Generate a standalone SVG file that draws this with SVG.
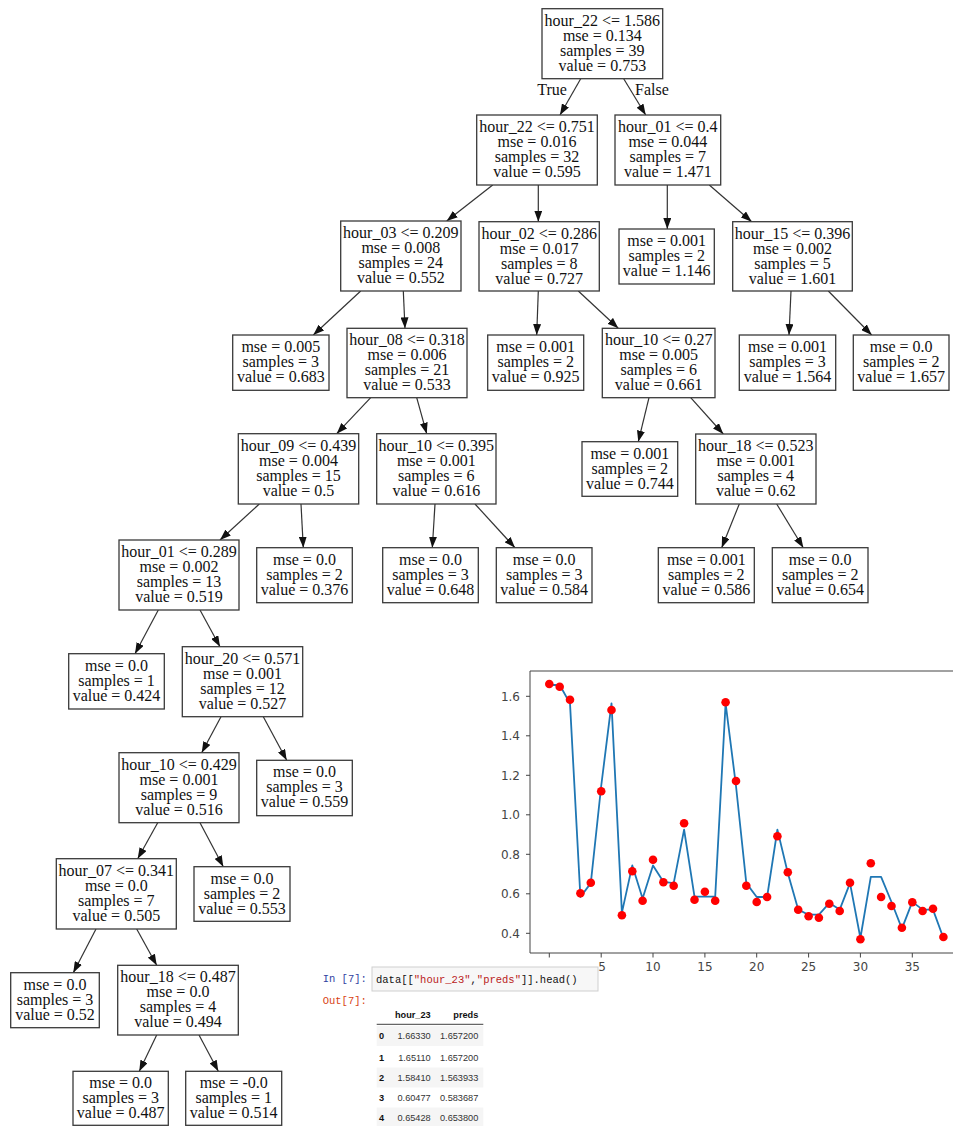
<svg xmlns="http://www.w3.org/2000/svg" width="953" height="1126" viewBox="0 0 953 1126">
  <style>
    .box { fill: #ffffff; stroke: #3a3a3a; stroke-width: 1.3; }
    .lbl { font-family: "Liberation Serif", "Times New Roman", serif; font-size: 16px; fill: #111; text-anchor: middle; }
    .edge { fill: none; stroke: #333; stroke-width: 1.2; }
    .tick { stroke: #444; stroke-width: 1; }
    .ytl { font-family: "DejaVu Sans", sans-serif; font-size: 12px; fill: #444; text-anchor: end; }
    .xtl { font-family: "DejaVu Sans", sans-serif; font-size: 12px; fill: #444; text-anchor: middle; }
    .mono { font-family: "Liberation Mono", "DejaVu Sans Mono", monospace; font-size: 10.5px; }
    .tbl { font-family: "Liberation Sans", Arial, sans-serif; font-size: 9.2px; fill: #333; }
    .tblr { text-anchor: end; }
    .bold { font-weight: bold; fill: #111; }
  </style>
  <defs>
    <marker id="arrow" markerUnits="userSpaceOnUse" markerWidth="11" markerHeight="8" refX="11" refY="4" orient="auto">
      <path d="M0,0 L11,4 L0,8 z" fill="#111"/>
    </marker>
  </defs>
  <rect width="953" height="1126" fill="#ffffff"/>

  <!-- tree connectors -->
  <g id="edges" class="edge" marker-end="url(#arrow)">
    <line x1="580.7" y1="78.7" x2="560" y2="115"/>
    <line x1="623.7" y1="78.7" x2="645.7" y2="115"/>
    <line x1="492.7" y1="185" x2="446.7" y2="221"/>
    <line x1="538.3" y1="185" x2="538.3" y2="221.7"/>
    <line x1="667.3" y1="185" x2="667.3" y2="229"/>
    <line x1="709.3" y1="185" x2="751.7" y2="221.7"/>
    <line x1="538.3" y1="291" x2="536.7" y2="335"/>
    <line x1="578.3" y1="291" x2="618.3" y2="328.3"/>
    <line x1="791" y1="291" x2="789" y2="335"/>
    <line x1="828.3" y1="291" x2="871.7" y2="335"/>
    <line x1="360.7" y1="291" x2="313.3" y2="335"/>
    <line x1="403.3" y1="291" x2="405" y2="328.3"/>
    <line x1="370.7" y1="397.7" x2="336.7" y2="433.7"/>
    <line x1="416.7" y1="397.7" x2="426.7" y2="433.7"/>
    <line x1="649" y1="397.7" x2="638.3" y2="441.7"/>
    <line x1="690.7" y1="397.7" x2="723.3" y2="434"/>
    <line x1="259.3" y1="504" x2="220" y2="540"/>
    <line x1="301" y1="504" x2="303.3" y2="547.7"/>
    <line x1="435" y1="504" x2="432.3" y2="547.7"/>
    <line x1="475" y1="504" x2="515" y2="547.7"/>
    <line x1="739.3" y1="504" x2="721.7" y2="547.7"/>
    <line x1="776.7" y1="504" x2="803.3" y2="547.7"/>
    <line x1="158.3" y1="610" x2="135" y2="653.7"/>
    <line x1="200" y1="610" x2="220" y2="646.7"/>
    <line x1="221" y1="716.7" x2="201.7" y2="752.7"/>
    <line x1="263.3" y1="716.7" x2="286.7" y2="760.3"/>
    <line x1="157.7" y1="822.7" x2="137.7" y2="858.7"/>
    <line x1="200" y1="822.7" x2="223.3" y2="866.7"/>
    <line x1="96" y1="929" x2="73.3" y2="972.7"/>
    <line x1="136.7" y1="929" x2="156.7" y2="965.3"/>
    <line x1="156.7" y1="1035" x2="139.3" y2="1071.3"/>
    <line x1="199" y1="1035" x2="218.3" y2="1071.3"/>
  </g>
  <g id="edge-labels" class="lbl">
    <text x="552" y="95">True</text>
    <text x="652" y="95">False</text>
  </g>

  <!-- tree nodes -->
  <g id="n0"><rect class="box" x="542" y="8.7" width="120.7" height="70"/>
    <text class="lbl" x="602.3" y="25.7">hour_22 &lt;= 1.586</text><text class="lbl" x="602.3" y="40.7">mse = 0.134</text><text class="lbl" x="602.3" y="55.7">samples = 39</text><text class="lbl" x="602.3" y="70.7">value = 0.753</text></g>
  <g id="n1"><rect class="box" x="476.7" y="115" width="120.6" height="70"/>
    <text class="lbl" x="537" y="132">hour_22 &lt;= 0.751</text><text class="lbl" x="537" y="147">mse = 0.016</text><text class="lbl" x="537" y="162">samples = 32</text><text class="lbl" x="537" y="177">value = 0.595</text></g>
  <g id="n2"><rect class="box" x="615" y="115" width="105.7" height="70"/>
    <text class="lbl" x="667.8" y="132">hour_01 &lt;= 0.4</text><text class="lbl" x="667.8" y="147">mse = 0.044</text><text class="lbl" x="667.8" y="162">samples = 7</text><text class="lbl" x="667.8" y="177">value = 1.471</text></g>
  <g id="n3"><rect class="box" x="340.7" y="221" width="120.3" height="70"/>
    <text class="lbl" x="400.8" y="238">hour_03 &lt;= 0.209</text><text class="lbl" x="400.8" y="253">mse = 0.008</text><text class="lbl" x="400.8" y="268">samples = 24</text><text class="lbl" x="400.8" y="283">value = 0.552</text></g>
  <g id="n4"><rect class="box" x="479" y="221.7" width="120.3" height="69.3"/>
    <text class="lbl" x="539.2" y="238.7">hour_02 &lt;= 0.286</text><text class="lbl" x="539.2" y="253.7">mse = 0.017</text><text class="lbl" x="539.2" y="268.7">samples = 8</text><text class="lbl" x="539.2" y="283.7">value = 0.727</text></g>
  <g id="n5"><rect class="box" x="619" y="229" width="95.3" height="55"/>
    <text class="lbl" x="666.7" y="246">mse = 0.001</text><text class="lbl" x="666.7" y="261">samples = 2</text><text class="lbl" x="666.7" y="276">value = 1.146</text></g>
  <g id="n6"><rect class="box" x="732.7" y="221.7" width="119.6" height="69.3"/>
    <text class="lbl" x="792.5" y="238.7">hour_15 &lt;= 0.396</text><text class="lbl" x="792.5" y="253.7">mse = 0.002</text><text class="lbl" x="792.5" y="268.7">samples = 5</text><text class="lbl" x="792.5" y="283.7">value = 1.601</text></g>
  <g id="n7"><rect class="box" x="232.7" y="335" width="96.3" height="55.3"/>
    <text class="lbl" x="280.8" y="352">mse = 0.005</text><text class="lbl" x="280.8" y="367">samples = 3</text><text class="lbl" x="280.8" y="382">value = 0.683</text></g>
  <g id="n8"><rect class="box" x="347" y="328.3" width="120" height="69.4"/>
    <text class="lbl" x="407" y="345.3">hour_08 &lt;= 0.318</text><text class="lbl" x="407" y="360.3">mse = 0.006</text><text class="lbl" x="407" y="375.3">samples = 21</text><text class="lbl" x="407" y="390.3">value = 0.533</text></g>
  <g id="n9"><rect class="box" x="487.7" y="335" width="96" height="55.3"/>
    <text class="lbl" x="535.7" y="352">mse = 0.001</text><text class="lbl" x="535.7" y="367">samples = 2</text><text class="lbl" x="535.7" y="382">value = 0.925</text></g>
  <g id="n10"><rect class="box" x="602.3" y="328.3" width="112.7" height="69.4"/>
    <text class="lbl" x="658.7" y="345.3">hour_10 &lt;= 0.27</text><text class="lbl" x="658.7" y="360.3">mse = 0.005</text><text class="lbl" x="658.7" y="375.3">samples = 6</text><text class="lbl" x="658.7" y="390.3">value = 0.661</text></g>
  <g id="n11"><rect class="box" x="739.3" y="335" width="96.4" height="55.3"/>
    <text class="lbl" x="787.5" y="352">mse = 0.001</text><text class="lbl" x="787.5" y="367">samples = 3</text><text class="lbl" x="787.5" y="382">value = 1.564</text></g>
  <g id="n12"><rect class="box" x="853.3" y="335" width="95.7" height="55.3"/>
    <text class="lbl" x="901.2" y="352">mse = 0.0</text><text class="lbl" x="901.2" y="367">samples = 2</text><text class="lbl" x="901.2" y="382">value = 1.657</text></g>
  <g id="n13"><rect class="box" x="238.3" y="433.7" width="120.4" height="70.3"/>
    <text class="lbl" x="298.5" y="450.7">hour_09 &lt;= 0.439</text><text class="lbl" x="298.5" y="465.7">mse = 0.004</text><text class="lbl" x="298.5" y="480.7">samples = 15</text><text class="lbl" x="298.5" y="495.7">value = 0.5</text></g>
  <g id="n14"><rect class="box" x="376.7" y="433.7" width="119.3" height="70.3"/>
    <text class="lbl" x="436.3" y="450.7">hour_10 &lt;= 0.395</text><text class="lbl" x="436.3" y="465.7">mse = 0.001</text><text class="lbl" x="436.3" y="480.7">samples = 6</text><text class="lbl" x="436.3" y="495.7">value = 0.616</text></g>
  <g id="n15"><rect class="box" x="582" y="441.7" width="95.7" height="54.6"/>
    <text class="lbl" x="629.8" y="458.7">mse = 0.001</text><text class="lbl" x="629.8" y="473.7">samples = 2</text><text class="lbl" x="629.8" y="488.7">value = 0.744</text></g>
  <g id="n16"><rect class="box" x="695.7" y="434" width="120.3" height="70"/>
    <text class="lbl" x="755.8" y="451">hour_18 &lt;= 0.523</text><text class="lbl" x="755.8" y="466">mse = 0.001</text><text class="lbl" x="755.8" y="481">samples = 4</text><text class="lbl" x="755.8" y="496">value = 0.62</text></g>
  <g id="n17"><rect class="box" x="119" y="540" width="120" height="70"/>
    <text class="lbl" x="179" y="557">hour_01 &lt;= 0.289</text><text class="lbl" x="179" y="572">mse = 0.002</text><text class="lbl" x="179" y="587">samples = 13</text><text class="lbl" x="179" y="602">value = 0.519</text></g>
  <g id="n18"><rect class="box" x="256.7" y="547.7" width="95.6" height="55"/>
    <text class="lbl" x="304.5" y="564.7">mse = 0.0</text><text class="lbl" x="304.5" y="579.7">samples = 2</text><text class="lbl" x="304.5" y="594.7">value = 0.376</text></g>
  <g id="n19"><rect class="box" x="382.7" y="547.7" width="95.6" height="55"/>
    <text class="lbl" x="430.5" y="564.7">mse = 0.0</text><text class="lbl" x="430.5" y="579.7">samples = 3</text><text class="lbl" x="430.5" y="594.7">value = 0.648</text></g>
  <g id="n20"><rect class="box" x="496.3" y="547.7" width="95.7" height="55"/>
    <text class="lbl" x="544.2" y="564.7">mse = 0.0</text><text class="lbl" x="544.2" y="579.7">samples = 3</text><text class="lbl" x="544.2" y="594.7">value = 0.584</text></g>
  <g id="n21"><rect class="box" x="658.3" y="547.7" width="96" height="55"/>
    <text class="lbl" x="706.3" y="564.7">mse = 0.001</text><text class="lbl" x="706.3" y="579.7">samples = 2</text><text class="lbl" x="706.3" y="594.7">value = 0.586</text></g>
  <g id="n22"><rect class="box" x="772.3" y="547.7" width="95.7" height="55"/>
    <text class="lbl" x="820.2" y="564.7">mse = 0.0</text><text class="lbl" x="820.2" y="579.7">samples = 2</text><text class="lbl" x="820.2" y="594.7">value = 0.654</text></g>
  <g id="n23"><rect class="box" x="68.7" y="653.7" width="95.6" height="55.3"/>
    <text class="lbl" x="116.5" y="670.7">mse = 0.0</text><text class="lbl" x="116.5" y="685.7">samples = 1</text><text class="lbl" x="116.5" y="700.7">value = 0.424</text></g>
  <g id="n24"><rect class="box" x="182.3" y="646.7" width="120.4" height="70"/>
    <text class="lbl" x="242.5" y="663.7">hour_20 &lt;= 0.571</text><text class="lbl" x="242.5" y="678.7">mse = 0.001</text><text class="lbl" x="242.5" y="693.7">samples = 12</text><text class="lbl" x="242.5" y="708.7">value = 0.527</text></g>
  <g id="n25"><rect class="box" x="119" y="752.7" width="120" height="70"/>
    <text class="lbl" x="179" y="769.7">hour_10 &lt;= 0.429</text><text class="lbl" x="179" y="784.7">mse = 0.001</text><text class="lbl" x="179" y="799.7">samples = 9</text><text class="lbl" x="179" y="814.7">value = 0.516</text></g>
  <g id="n26"><rect class="box" x="256.7" y="760.3" width="95.6" height="55.4"/>
    <text class="lbl" x="304.5" y="777.3">mse = 0.0</text><text class="lbl" x="304.5" y="792.3">samples = 3</text><text class="lbl" x="304.5" y="807.3">value = 0.559</text></g>
  <g id="n27"><rect class="box" x="56.3" y="858.7" width="120" height="70.3"/>
    <text class="lbl" x="116.3" y="875.7">hour_07 &lt;= 0.341</text><text class="lbl" x="116.3" y="890.7">mse = 0.0</text><text class="lbl" x="116.3" y="905.7">samples = 7</text><text class="lbl" x="116.3" y="920.7">value = 0.505</text></g>
  <g id="n28"><rect class="box" x="194" y="866.7" width="96" height="54.6"/>
    <text class="lbl" x="242" y="883.7">mse = 0.0</text><text class="lbl" x="242" y="898.7">samples = 2</text><text class="lbl" x="242" y="913.7">value = 0.553</text></g>
  <g id="n29"><rect class="box" x="10.7" y="972.7" width="88.6" height="55"/>
    <text class="lbl" x="55" y="989.7">mse = 0.0</text><text class="lbl" x="55" y="1004.7">samples = 3</text><text class="lbl" x="55" y="1019.7">value = 0.52</text></g>
  <g id="n30"><rect class="box" x="117.7" y="965.3" width="120.6" height="69.7"/>
    <text class="lbl" x="178" y="982.3">hour_18 &lt;= 0.487</text><text class="lbl" x="178" y="997.3">mse = 0.0</text><text class="lbl" x="178" y="1012.3">samples = 4</text><text class="lbl" x="178" y="1027.3">value = 0.494</text></g>
  <g id="n31"><rect class="box" x="73" y="1071.3" width="95.3" height="54"/>
    <text class="lbl" x="120.7" y="1088.3">mse = 0.0</text><text class="lbl" x="120.7" y="1103.3">samples = 3</text><text class="lbl" x="120.7" y="1118.3">value = 0.487</text></g>
  <g id="n32"><rect class="box" x="185.7" y="1071.3" width="96" height="54"/>
    <text class="lbl" x="233.7" y="1088.3">mse = -0.0</text><text class="lbl" x="233.7" y="1103.3">samples = 1</text><text class="lbl" x="233.7" y="1118.3">value = 0.514</text></g>

  <!-- line chart: actual values (dots) against predictions (line) -->
  <g id="chart">
    <path d="M530,671 H960 M530,671 V953 H960" fill="none" stroke="#444" stroke-width="1"/>
    <g class="tick">
      <line x1="526" y1="696.3" x2="530" y2="696.3"/><line x1="526" y1="735.8" x2="530" y2="735.8"/>
      <line x1="526" y1="775.3" x2="530" y2="775.3"/><line x1="526" y1="814.8" x2="530" y2="814.8"/>
      <line x1="526" y1="854.3" x2="530" y2="854.3"/><line x1="526" y1="893.8" x2="530" y2="893.8"/>
      <line x1="526" y1="933.3" x2="530" y2="933.3"/>
      <line x1="549.3" y1="953" x2="549.3" y2="957.5"/><line x1="601.2" y1="953" x2="601.2" y2="957.5"/>
      <line x1="653" y1="953" x2="653" y2="957.5"/><line x1="704.9" y1="953" x2="704.9" y2="957.5"/>
      <line x1="756.7" y1="953" x2="756.7" y2="957.5"/><line x1="808.6" y1="953" x2="808.6" y2="957.5"/>
      <line x1="860.4" y1="953" x2="860.4" y2="957.5"/><line x1="912.3" y1="953" x2="912.3" y2="957.5"/>
    </g>
    <g class="ytl">
      <text x="520" y="700.6">1.6</text><text x="520" y="740.1">1.4</text><text x="520" y="779.6">1.2</text>
      <text x="520" y="819.1">1.0</text><text x="520" y="858.6">0.8</text><text x="520" y="898.1">0.6</text>
      <text x="520" y="937.6">0.4</text>
    </g>
    <g class="xtl">
      <text x="653" y="971">10</text><text x="704.9" y="971">15</text>
      <text x="756.7" y="971">20</text><text x="808.6" y="971">25</text><text x="860.4" y="971">30</text>
      <text x="912.3" y="971">35</text>
    </g>
    <polyline fill="none" stroke="#1f77b4" stroke-width="1.8" stroke-linejoin="round"
      points="549.3,685 559.7,685 570,703.4 580.4,897 590.8,883.1 601.2,786 611.5,703.4 621.9,912.6 632.3,865.4 642.6,898.5 653,865.4 663.4,881.8 673.7,883.1 684.1,829.6 694.5,896.6 704.9,896.6 715.2,896.6 725.6,703.4 736,786 746.3,883.1 756.7,897 767.1,897 777.4,829.6 787.8,873 798.2,909.6 808.6,914.7 818.9,914.7 829.3,903.1 839.7,909.6 850,883.1 860.4,938 870.8,876.8 881.1,876.8 891.5,902 901.9,928.6 912.3,901.9 922.6,909.6 933,909.6 943.4,938"/>
    <g fill="#ff0000">
      <circle cx="549.3" cy="684" r="4.3"/><circle cx="559.7" cy="686.7" r="4.3"/><circle cx="570" cy="699.7" r="4.3"/>
      <circle cx="580.4" cy="893.3" r="4.3"/><circle cx="590.8" cy="882.7" r="4.3"/><circle cx="601.2" cy="791.3" r="4.3"/>
      <circle cx="611.5" cy="710" r="4.3"/><circle cx="621.9" cy="915.3" r="4.3"/><circle cx="632.3" cy="871.3" r="4.3"/>
      <circle cx="642.6" cy="900.7" r="4.3"/><circle cx="653" cy="859.7" r="4.3"/><circle cx="663.4" cy="882.3" r="4.3"/>
      <circle cx="673.7" cy="885.7" r="4.3"/><circle cx="684.1" cy="823.3" r="4.3"/><circle cx="694.5" cy="899.7" r="4.3"/>
      <circle cx="704.9" cy="891.7" r="4.3"/><circle cx="715.2" cy="900.7" r="4.3"/><circle cx="725.6" cy="702.3" r="4.3"/>
      <circle cx="736" cy="781" r="4.3"/><circle cx="746.3" cy="885.7" r="4.3"/><circle cx="756.7" cy="902" r="4.3"/>
      <circle cx="767.1" cy="897" r="4.3"/><circle cx="777.4" cy="836.3" r="4.3"/><circle cx="787.8" cy="872.3" r="4.3"/>
      <circle cx="798.2" cy="909.7" r="4.3"/><circle cx="808.6" cy="916.3" r="4.3"/><circle cx="818.9" cy="917.7" r="4.3"/>
      <circle cx="829.3" cy="903.7" r="4.3"/><circle cx="839.7" cy="911" r="4.3"/><circle cx="850" cy="882.7" r="4.3"/>
      <circle cx="860.4" cy="939.3" r="4.3"/><circle cx="870.8" cy="863.3" r="4.3"/><circle cx="881.1" cy="897" r="4.3"/>
      <circle cx="891.5" cy="906" r="4.3"/><circle cx="901.9" cy="927.7" r="4.3"/><circle cx="912.3" cy="902.3" r="4.3"/>
      <circle cx="922.6" cy="911" r="4.3"/><circle cx="933" cy="908.7" r="4.3"/><circle cx="943.4" cy="937" r="4.3"/>
    </g>
  </g>

  <!-- notebook cell with the head of the prediction table -->
  <g id="notebook">
    <rect x="372" y="967" width="226" height="24" fill="#f7f7f7" stroke="#cfcfcf" stroke-width="1"/>
    <text x="602" y="971" class="xtl">5</text>
    <text class="mono" x="322.7" y="982" fill="#303F9F">In [7]:</text>
    <text class="mono" x="376" y="982.5" fill="#111">data[[<tspan fill="#BA2121">"hour_23"</tspan>,<tspan fill="#BA2121">"preds"</tspan>]].head()</text>
    <text class="mono" x="322.7" y="1003.7" fill="#D84315">Out[7]:</text>
    <rect x="376.7" y="1026" width="106.6" height="20" fill="#f5f5f5"/>
    <rect x="376.7" y="1067.5" width="106.6" height="20" fill="#f5f5f5"/>
    <rect x="376.7" y="1107.5" width="106.6" height="18.5" fill="#f5f5f5"/>
    <line x1="376.7" y1="1024.3" x2="483.3" y2="1024.3" stroke="#666" stroke-width="1.3"/>
    <g class="tbl">
      <text class="bold tblr" x="430.7" y="1017.5">hour_23</text><text class="bold tblr" x="478.3" y="1017.5">preds</text>
      <text class="bold" x="379" y="1039.2">0</text><text class="tblr" x="430.7" y="1039.2">1.66330</text><text class="tblr" x="478.3" y="1039.2">1.657200</text>
      <text class="bold" x="379" y="1060.9">1</text><text class="tblr" x="430.7" y="1060.9">1.65110</text><text class="tblr" x="478.3" y="1060.9">1.657200</text>
      <text class="bold" x="379" y="1080.9">2</text><text class="tblr" x="430.7" y="1080.9">1.58410</text><text class="tblr" x="478.3" y="1080.9">1.563933</text>
      <text class="bold" x="379" y="1100.5">3</text><text class="tblr" x="430.7" y="1100.5">0.60477</text><text class="tblr" x="478.3" y="1100.5">0.583687</text>
      <text class="bold" x="379" y="1120.9">4</text><text class="tblr" x="430.7" y="1120.9">0.65428</text><text class="tblr" x="478.3" y="1120.9">0.653800</text>
    </g>
  </g>
</svg>
